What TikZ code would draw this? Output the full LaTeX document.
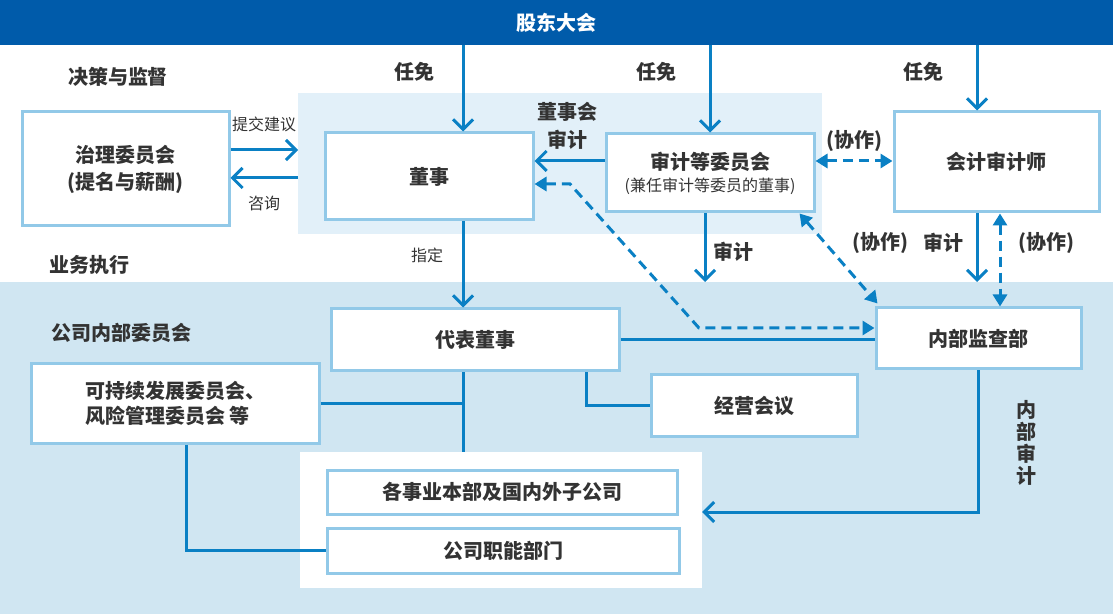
\documentclass[tikz,border=0pt]{standalone}
\usepackage{fontspec}
\setmainfont{Noto Sans CJK SC}
\usetikzlibrary{arrows.meta}
\definecolor{meetblue}{HTML}{005BAA}
\definecolor{lineblue}{HTML}{0A80C4}
\definecolor{edgeblue}{HTML}{92C9E8}
\definecolor{boardbg}{HTML}{E2F0F9}
\definecolor{execbg}{HTML}{D0E6F2}
\definecolor{txt}{HTML}{333333}
\begin{document}
\begin{tikzpicture}[x=0.5pt,y=-0.5pt,
  area/.style={anchor=north west,inner sep=0pt,outer sep=0pt},
  box/.style={rectangle,draw=edgeblue,line width=1.5pt,fill=white,text=txt,align=center,inner sep=0pt,font=\fontsize{10}{13}\selectfont\bfseries},
  lbl/.style={text=txt,align=center,inner sep=1pt,font=\fontsize{10}{13}\selectfont\bfseries},
  small/.style={text=txt,inner sep=1pt,font=\fontsize{8}{10}\selectfont},
  arr/.style={draw=lineblue,line width=1.5pt,-{Straight Barb[length=5pt,width=10pt]}},
  lin/.style={draw=lineblue,line width=1.5pt},
  darr/.style={draw=lineblue,line width=1.5pt,dash pattern=on 5pt off 3pt,{Triangle[length=6pt,width=7pt]}-{Triangle[length=6pt,width=7pt]}}]
\useasboundingbox (0,0) rectangle (1113,614);
\node[area,fill=meetblue,minimum width=556.5pt,minimum height=22.5pt,text=white,font=\fontsize{10}{13}\selectfont\bfseries] (gm) at (0,0) {股东大会};
\node[area,fill=boardbg,minimum width=262pt,minimum height=70.5pt] (board) at (298,93) {};
\node[area,fill=execbg,minimum width=556.5pt,minimum height=166pt] (exec) at (0,282) {};
\node[area,fill=white,minimum width=201pt,minimum height=68pt] (org) at (300,452) {};

\node[box,minimum width=103.5pt,minimum height=57pt] (gov) at (125.5,169) {治理委员会\\[0.5pt](提名与薪酬)};
\node[box,minimum width=104pt,minimum height=43.5pt] (dir) at (429,176.5) {董事};
\node[box,minimum width=104pt,minimum height=39pt] (audc) at (710,173) {审计等委员会\\[-2pt]{\fontsize{8}{10}\selectfont\mdseries (兼任审计等委员的董事)}};
\node[box,minimum width=102.5pt,minimum height=50pt] (acct) at (996.5,162) {会计审计师};
\node[box,minimum width=144pt,minimum height=31pt] (rep) at (475,340) {代表董事};
\node[box,minimum width=102.5pt,minimum height=30.5pt] (iad) at (978.5,338.5) {内部监查部};
\node[box,minimum width=103pt,minimum height=30.5pt] (mgmt) at (754,405.5) {经营会议};
\node[box,minimum width=144pt,minimum height=39.5pt,align=left] (sus) at (175,403.5) {可持续发展委员会、\\[-0.5pt]风险管理委员会 等};
\node[box,minimum width=175pt,minimum height=22pt] (biz) at (502,492) {各事业本部及国内外子公司};
\node[box,minimum width=176pt,minimum height=22.5pt] (func) at (503,550.5) {公司职能部门};

\node[lbl] (rm1) at (414,72) {任免};
\node[lbl] (rm2) at (656,72) {任免};
\node[lbl] (rm3) at (923,72) {任免};
\node[lbl] (bdaud) at (567,126) {董事会\\[1pt]审计};
\node[small] (sub) at (264,124) {提交建议};
\node[small] (cons) at (264,203) {咨询};
\node[small] (appt) at (427,255) {指定};
\node[lbl] (sec1) at (118,77) {决策与监督};
\node[lbl] (sec2) at (89,265) {业务执行};
\node[lbl] (sec3) at (121,333) {公司内部委员会};
\node[lbl] (coop1) at (854,141) {(协作)};
\node[lbl] (coop2) at (880,243) {(协作)};
\node[lbl] (coop3) at (1046,243) {(协作)};
\node[lbl] (aud1) at (733,252) {审计};
\node[lbl] (aud2) at (943,243) {审计};
\node[lbl] (ia) at (1026,443) {内\\[-2pt]部\\[-2pt]审\\[-2pt]计};

\coordinate (xdir) at (463,0);
\coordinate (xrep) at (586,0);
\coordinate (xaud) at (705,0);
\coordinate (xacA) at (977,0);
\coordinate (xacB) at (1000,0);
\coordinate (xsus) at (186,0);
\coordinate (dk1) at (570,184);
\coordinate (dk2) at (699,328);

\draw[arr] (gm.south -| xdir) -- (dir.north -| xdir);
\draw[arr] (gm.south -| audc) -- (audc.north);
\draw[arr] (gm.south -| xacA) -- (acct.north -| xacA);
\draw[arr] ([yshift=9.5pt]gov.east) -- ([yshift=9.5pt]gov.east -| board.west);
\draw[arr] ([yshift=-4.5pt]gov.east -| board.west) -- ([yshift=-4.5pt]gov.east);
\draw[arr] ([yshift=6pt]audc.west) -- ([yshift=6pt]audc.west -| dir.east);
\draw[darr] (dir.east |- dk1) -- (dk1) -- (dk2) -- (dk2 -| iad.west);
\draw[darr] ([yshift=6pt]audc.east) -- ([yshift=6pt]audc.east -| acct.west);
\draw[arr] (audc.south -| xaud) -- (exec.north -| xaud);
\draw[darr] ([xshift=-8pt]audc.south east) -- ([shift={(1.5pt,1.5pt)}]iad.north west);
\draw[arr] (acct.south -| xacA) -- (exec.north -| xacA);
\draw[darr] (acct.south -| xacB) -- (iad.north -| xacB);
\draw[arr] (dir.south -| xdir) -- (rep.north -| xdir);
\draw[lin] (rep.east) -- (rep.east -| iad.west);
\draw[lin] (rep.south -| xrep) |- (mgmt.west);
\draw[lin] (rep.south -| xdir) -- (org.north -| xdir);
\draw[lin] (sus.east) -- (sus.east -| xdir);
\draw[lin] (sus.south -| xsus) |- (func.west);
\draw[arr] (iad.south) |- ([yshift=4pt]org.east);
\end{tikzpicture}
\end{document}
